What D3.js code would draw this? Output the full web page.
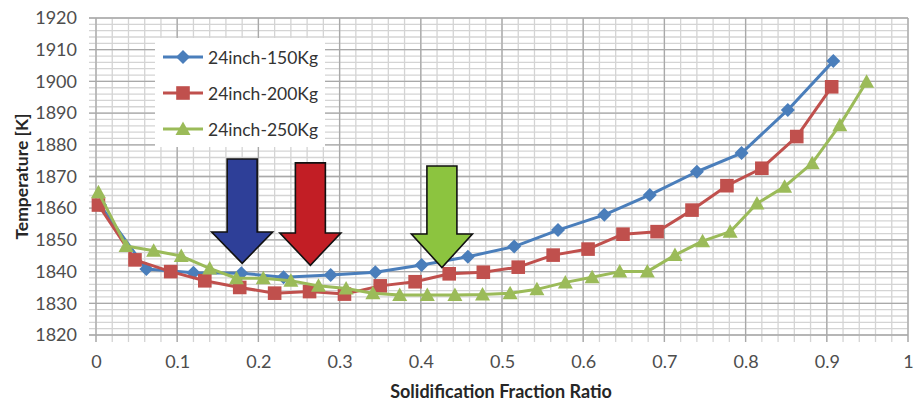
<!DOCTYPE html>
<html>
<head>
<meta charset="utf-8">
<script src="https://cdn.jsdelivr.net/npm/d3@7"></script>
<style>
  html, body { margin: 0; padding: 0; background: #fff; }
  svg { display: block; }
  text { font-family: Lato, "Open Sans", sans-serif; }
</style>
</head>
<body>
<svg id="chart" width="914" height="404"></svg>
<script>
// Solidification fraction ratio (x) and temperature in K (y) per casting weight
const seriesNames = ["24inch-150Kg", "24inch-200Kg", "24inch-250Kg"];

const frac150 = [0.005, 0.062, 0.12, 0.179, 0.231, 0.289, 0.344, 0.401, 0.458, 0.515, 0.569, 0.626, 0.682, 0.74, 0.795, 0.852, 0.908];
const temp150 = [1861, 1840.8, 1839.6, 1839.5, 1838.2, 1838.9, 1839.8, 1842.1, 1844.7, 1847.9, 1853.1, 1857.9, 1864.2, 1871.5, 1877.4, 1891, 1906.4];

const frac200 = [0.003, 0.048, 0.092, 0.134, 0.177, 0.22, 0.263, 0.306, 0.35, 0.393, 0.435, 0.477, 0.52, 0.563, 0.606, 0.649, 0.691, 0.734, 0.777, 0.82, 0.863, 0.906];
const temp200 = [1861, 1843.7, 1840, 1837.1, 1835, 1833.2, 1833.7, 1832.9, 1835.5, 1836.8, 1839.3, 1839.8, 1841.4, 1845.2, 1847.1, 1851.8, 1852.6, 1859.4, 1867.1, 1872.6, 1882.6, 1898.3];

const frac250 = [0.003, 0.037, 0.071, 0.105, 0.14, 0.173, 0.206, 0.24, 0.274, 0.308, 0.341, 0.374, 0.408, 0.442, 0.476, 0.51, 0.543, 0.578, 0.611, 0.645, 0.679, 0.713, 0.747, 0.781, 0.814, 0.848, 0.882, 0.916, 0.949];
const temp250 = [1865, 1848.1, 1846.6, 1844.9, 1841, 1837.9, 1837.9, 1837.1, 1835.5, 1834.7, 1833.2, 1832.6, 1832.6, 1832.6, 1832.8, 1833.2, 1834.4, 1836.6, 1838.2, 1840, 1840, 1845.2, 1849.6, 1852.6, 1861.5, 1866.8, 1874.2, 1886.2, 1899.9];

// Minimum-temperature markers: fraction where each arrow points, tip / shaft-top temperatures
const arrowFrac = [0.18, 0.264, 0.426];
const arrowTipTemp = [1842.6, 1842.0, 1841.3];
const arrowTopTemp = [1875.5, 1874.3, 1873.3];

const xTicks = [0, 0.1, 0.2, 0.3, 0.4, 0.5, 0.6, 0.7, 0.8, 0.9, 1];
const yTicks = [1820, 1830, 1840, 1850, 1860, 1870, 1880, 1890, 1900, 1910, 1920];

const colors = ["#4a7ebb", "#c0504d", "#9bbb59"];
const arrowColors = ["#2e3f98", "#c21e25", "#8cc43f"];
const markers = ["diamond", "square", "triangle"];

const svg = d3.select("#chart");
const L = 96, R = 908, T = 18, B = 335;
const x = d3.scaleLinear().domain([0, 1]).range([L, R]);
const y = d3.scaleLinear().domain([1820, 1920]).range([B, T]);

// grid: minor every 0.02 / 2 K, major every 0.1 / 10 K; lines run a few px past the axes
const grid = svg.append("g");
const xMinor = d3.range(0, 1.0001, 0.02);
const yMinor = d3.range(1820, 1920.001, 2);
grid.selectAll(".vminor").data(xMinor).join("line")
  .attr("x1", d => x(d)).attr("x2", d => x(d))
  .attr("y1", T).attr("y2", B + 7)
  .attr("stroke", "#d4d4d4").attr("stroke-width", 1.3);
grid.selectAll(".hminor").data(yMinor).join("line")
  .attr("x1", L - 7).attr("x2", R)
  .attr("y1", d => y(d)).attr("y2", d => y(d))
  .attr("stroke", "#d4d4d4").attr("stroke-width", 1.3);
grid.selectAll(".vmajor").data(xTicks).join("line")
  .attr("x1", d => x(d)).attr("x2", d => x(d))
  .attr("y1", T).attr("y2", B + 7)
  .attr("stroke", "#a9a9a9").attr("stroke-width", 1.3);
grid.selectAll(".hmajor").data(yTicks).join("line")
  .attr("x1", L - 7).attr("x2", R)
  .attr("y1", d => y(d)).attr("y2", d => y(d))
  .attr("stroke", "#a9a9a9").attr("stroke-width", 1.3);

// axes labels
const yAxis = d3.axisLeft(y).tickValues(yTicks).tickSize(0).tickPadding(19).tickFormat(d3.format("d"));
const gy = svg.append("g").attr("transform", `translate(${L},0)`).call(yAxis);
gy.select(".domain").remove();
gy.selectAll("text").attr("fill", "#4d4d4d").style("font-size", "18px");

const xAxis = d3.axisBottom(x).tickValues(xTicks).tickSize(0).tickPadding(20).tickFormat(d => d === 0 ? "0" : d === 1 ? "1" : d3.format(".1f")(d));
const gx = svg.append("g").attr("transform", `translate(0,${B})`).call(xAxis);
gx.select(".domain").remove();
gx.selectAll("text").attr("fill", "#4d4d4d").style("font-size", "18px");

svg.append("text")
  .attr("transform", `translate(21,${(T + B) / 2}) rotate(-90)`)
  .attr("text-anchor", "middle").attr("dominant-baseline", "central")
  .attr("font-weight", "bold").style("font-size", "17.5px").attr("fill", "#262626")
  .text("Temperature [K]");
svg.append("text")
  .attr("x", (L + R) / 2 - 1).attr("y", 391)
  .attr("text-anchor", "middle").attr("dominant-baseline", "central")
  .attr("font-weight", "bold").style("font-size", "18px").attr("fill", "#262626")
  .text("Solidification Fraction Ratio");

// marker shapes centred on the origin
function markerPath(kind) {
  if (kind === "diamond") { const r = 7; return `M0,${-r}L${r},0L0,${r}L${-r},0Z`; }
  if (kind === "square") { const h = 6.8; return `M${-h},${-h}H${h}V${h}H${-h}Z`; }
  const w = 7.5, t = 7.5, b = 6; return `M0,${-t}L${w},${b}L${-w},${b}Z`;
}

const series = [
  { name: seriesNames[0], fx: frac150, ty: temp150 },
  { name: seriesNames[1], fx: frac200, ty: temp200 },
  { name: seriesNames[2], fx: frac250, ty: temp250 }
];

const line = d3.line().x(d => x(d[0])).y(d => y(d[1]));
series.forEach((s, i) => {
  const pts = s.fx.map((f, k) => [f, s.ty[k]]);
  const g = svg.append("g");
  g.append("path").datum(pts).attr("d", line)
    .attr("fill", "none").attr("stroke", colors[i]).attr("stroke-width", 3)
    .attr("stroke-linejoin", "round");
  g.selectAll("path.m").data(pts).join("path").attr("class", "m")
    .attr("d", markerPath(markers[i]))
    .attr("transform", d => `translate(${x(d[0])},${y(d[1])})`)
    .attr("fill", colors[i]);
});

// downward arrows marking each curve's minimum
const shaftHalf = 15, headHalf = 30.5, headTemp = 1852.2;
arrowFrac.forEach((f, i) => {
  const cx = x(f), tip = y(arrowTipTemp[i]), top = y(arrowTopTemp[i]), hy = y(headTemp + (arrowTipTemp[i] - 1842) * 0.5);
  const p = d3.path();
  p.moveTo(cx - shaftHalf, top);
  p.lineTo(cx + shaftHalf, top);
  p.lineTo(cx + shaftHalf, hy);
  p.lineTo(cx + headHalf, hy);
  p.lineTo(cx, tip);
  p.lineTo(cx - headHalf, hy);
  p.lineTo(cx - shaftHalf, hy);
  p.closePath();
  svg.append("path").attr("d", p.toString())
    .attr("fill", arrowColors[i]).attr("stroke", "#111").attr("stroke-width", 1.6)
    .attr("stroke-linejoin", "miter");
});

// legend
const lg = svg.append("g");
lg.append("rect").attr("x", 155).attr("y", 38).attr("width", 170).attr("height", 109).attr("fill", "#fff");
seriesNames.forEach((n, i) => {
  const cy = 57 + i * 36;
  lg.append("line").attr("x1", 163).attr("x2", 203).attr("y1", cy).attr("y2", cy)
    .attr("stroke", colors[i]).attr("stroke-width", 3);
  lg.append("path").attr("d", markerPath(markers[i])).attr("transform", `translate(183,${cy})`).attr("fill", colors[i]);
  lg.append("text").attr("x", 208).attr("y", cy).attr("dominant-baseline", "central")
    .style("font-size", "17.5px").attr("fill", "#333").text(n);
});
</script>
</body>
</html>
